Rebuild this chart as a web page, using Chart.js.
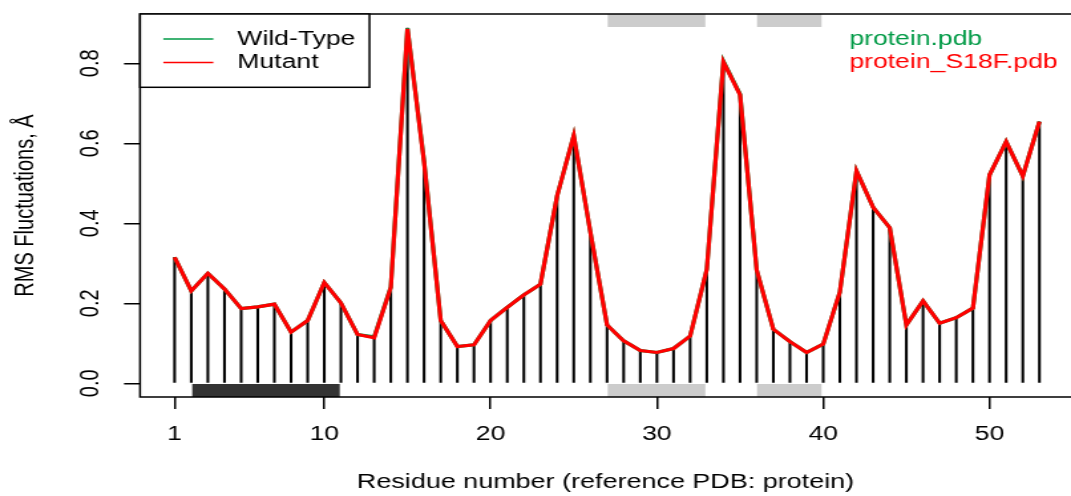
<!DOCTYPE html>
<html>
<head>
<meta charset="utf-8">
<title>RMS Fluctuations</title>
<script src="https://cdn.jsdelivr.net/npm/chart.js@4.4.1/dist/chart.umd.min.js"></script>
<style>
  html, body { margin: 0; padding: 0; background: #fff; overflow: hidden; }
  /* the picture is a horizontally stretched R device, so stretch the canvas the same way */
  #wrap { width: 806px; height: 496px; transform: scaleX(1.3288); transform-origin: 0 0; }
</style>
</head>
<body>
<div id="wrap"><canvas id="rmsfChart" width="806" height="496"></canvas></div>
<script>
// Residue numbers (reference PDB: protein)
const residues = [1, 2, 3, 4, 5, 6, 7, 8, 9, 10, 11, 12, 13, 14, 15, 16, 17, 18, 19, 20,
  21, 22, 23, 24, 25, 26, 27, 28, 29, 30, 31, 32, 33, 34, 35, 36, 37, 38, 39, 40,
  41, 42, 43, 44, 45, 46, 47, 48, 49, 50, 51, 52, 53];

// RMSF per residue (Angstrom)
const wildTypeRmsf = [0.315, 0.231, 0.275, 0.236, 0.187, 0.191, 0.198, 0.128, 0.157, 0.252,
  0.201, 0.122, 0.116, 0.241, 0.888, 0.556, 0.157, 0.092, 0.096, 0.157,
  0.190, 0.221, 0.248, 0.469, 0.619, 0.378, 0.146, 0.106, 0.082, 0.077,
  0.087, 0.118, 0.285, 0.805, 0.723, 0.283, 0.135, 0.104, 0.077, 0.098,
  0.228, 0.531, 0.440, 0.389, 0.146, 0.206, 0.150, 0.164, 0.188, 0.521,
  0.604, 0.518, 0.654];
const mutantRmsf = [0.315, 0.231, 0.275, 0.236, 0.187, 0.191, 0.198, 0.128, 0.157, 0.252,
  0.201, 0.122, 0.114, 0.240, 0.886, 0.553, 0.157, 0.092, 0.096, 0.157,
  0.190, 0.221, 0.248, 0.469, 0.619, 0.378, 0.146, 0.106, 0.082, 0.077,
  0.087, 0.118, 0.285, 0.803, 0.721, 0.283, 0.135, 0.104, 0.077, 0.098,
  0.228, 0.531, 0.440, 0.389, 0.146, 0.206, 0.150, 0.164, 0.188, 0.521,
  0.604, 0.518, 0.654];

// Axis ticks
const xTicks = [1, 10, 20, 30, 40, 50];
const yTicks = [0, 0.2, 0.4, 0.6, 0.8];

// Secondary structure (residue ranges)
const helixRanges = [[2.06, 10.93]];
const strandRanges = [[27.04, 32.91], [36.02, 39.9]];

// Labels
const legendLabels = ['Wild-Type', 'Mutant'];
const fileLabels = ['protein.pdb', 'protein_S18F.pdb'];
const seriesColors = ['#009a46', '#ff0000'];

const FONT = "'Liberation Sans', Arial, Helvetica, sans-serif";
const STRETCH = 1071 / 806;
const px = (realX) => realX / STRETCH; // picture x -> canvas x

function toPoints(values) {
    return residues.map((r, i) => ({ x: r, y: values[i] }));
}

// Box, SSE bars, legend and rotated y labels, R style
const decorPlugin = {
    id: 'decor',
    beforeDatasetsDraw(chart) {
        const { ctx, chartArea: a, scales: { x } } = chart;
        ctx.save();
        const drawBars = (ranges, color) => {
            ctx.fillStyle = color;
            ranges.forEach(([s, e]) => {
                const x0 = x.getPixelForValue(s);
                const x1 = x.getPixelForValue(e);
                ctx.fillRect(x0, a.top, x1 - x0, 13);
                ctx.fillRect(x0, a.bottom - 13, x1 - x0, 13);
            });
        };
        drawBars(helixRanges, '#333333');
        drawBars(strandRanges, '#cccccc');
        ctx.restore();
    },
    afterDraw(chart) {
        const { ctx, chartArea: a, scales: { y } } = chart;
        ctx.save();

        // plot box (right side falls outside the picture)
        ctx.strokeStyle = '#000';
        ctx.lineWidth = 1.5;
        ctx.beginPath();
        ctx.moveTo(a.right + 5, a.top);
        ctx.lineTo(a.left, a.top);
        ctx.lineTo(a.left, a.bottom);
        ctx.lineTo(a.right + 5, a.bottom);
        ctx.stroke();

        // legend box
        const boxRight = px(369.5);
        ctx.fillStyle = '#fff';
        ctx.fillRect(a.left, a.top, boxRight - a.left, 87.3 - a.top);
        ctx.strokeRect(a.left, a.top, boxRight - a.left, 87.3 - a.top);

        ctx.font = '20px ' + FONT;
        ctx.textBaseline = 'middle';
        const rowY = [39, 62.5];
        legendLabels.forEach((label, i) => {
            ctx.strokeStyle = seriesColors[i];
            ctx.lineWidth = 1.5;
            ctx.beginPath();
            ctx.moveTo(px(163.3), rowY[i]);
            ctx.lineTo(px(213.3), rowY[i]);
            ctx.stroke();
            ctx.fillStyle = '#000';
            ctx.textAlign = 'left';
            ctx.fillText(label, px(237.3), rowY[i]);
        });

        // structure file names, top right
        fileLabels.forEach((label, i) => {
            ctx.fillStyle = seriesColors[i];
            ctx.textAlign = 'left';
            ctx.fillText(label, px(849.3), rowY[i]);
        });

        // y tick labels, rotated like R's las = 0
        ctx.fillStyle = '#000';
        ctx.textAlign = 'center';
        yTicks.forEach(v => {
            ctx.save();
            ctx.translate(px(91), y.getPixelForValue(v));
            ctx.rotate(-Math.PI / 2);
            ctx.fillText(v.toFixed(1), 0, 0);
            ctx.restore();
        });

        ctx.restore();
    }
};

const axisGrid = {
    drawOnChartArea: false,
    drawTicks: true,
    tickLength: 12,
    color: '#000',
    lineWidth: 1.5,
    offset: false
};

new Chart(document.getElementById('rmsfChart').getContext('2d'), {
    type: 'line',
    data: {
        datasets: [
            {
                type: 'line',
                label: 'Mutant',
                data: toPoints(mutantRmsf),
                borderColor: seriesColors[1],
                borderWidth: 3.2,
                pointRadius: 0,
                tension: 0,
                fill: false,
                order: 0
            },
            {
                type: 'line',
                label: 'Wild-Type',
                data: toPoints(wildTypeRmsf),
                borderColor: seriesColors[0],
                borderWidth: 3.2,
                pointRadius: 0,
                tension: 0,
                fill: false,
                order: 1
            },
            {
                type: 'bar',
                label: 'Wild-Type spikes',
                data: toPoints(wildTypeRmsf),
                backgroundColor: '#000',
                barThickness: 1.4,
                order: 2
            }
        ]
    },
    options: {
        responsive: false,
        animation: false,
        devicePixelRatio: 1,
        layout: { padding: { top: 14, left: 0, right: 0, bottom: 0 } },
        plugins: {
            legend: { display: false },
            tooltip: { enabled: false }
        },
        scales: {
            x: {
                type: 'linear',
                min: -1.08,
                max: 54.9,
                offset: false,
                afterBuildTicks: s => { s.ticks = xTicks.map(v => ({ value: v })); },
                afterFit: s => { s.height = 99; },
                grid: axisGrid,
                border: { display: false },
                ticks: {
                    color: '#000',
                    font: { family: FONT, size: 20 },
                    padding: 13,
                    maxRotation: 0,
                    autoSkip: false,
                    callback: v => String(v)
                },
                title: {
                    display: true,
                    text: 'Residue number (reference PDB: protein)',
                    color: '#000',
                    font: { family: FONT, size: 20.3 },
                    padding: { top: 0, bottom: 1 }
                }
            },
            y: {
                type: 'linear',
                min: -0.0343,
                max: 0.9233,
                afterBuildTicks: s => { s.ticks = yTicks.map(v => ({ value: v })); },
                afterFit: s => { s.width = px(140); },
                grid: axisGrid,
                border: { display: false },
                ticks: { display: false },
                title: {
                    display: true,
                    text: 'RMS Fluctuations, Å',
                    color: '#000',
                    font: { family: FONT, size: 20 },
                    padding: { top: 7, bottom: 0 }
                }
            }
        }
    },
    plugins: [decorPlugin]
});
</script>
</body>
</html>
